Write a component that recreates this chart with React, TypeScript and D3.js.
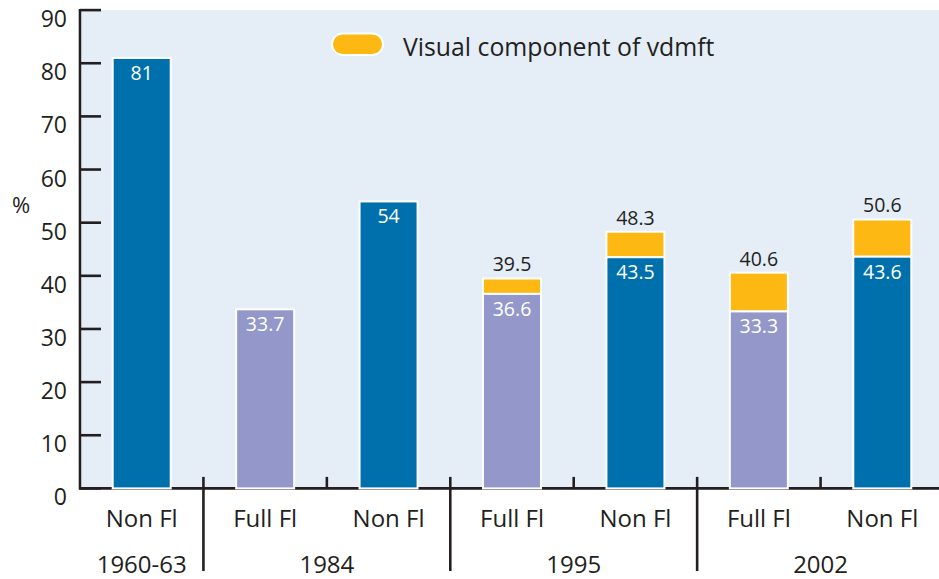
import React from "react";
import * as d3 from "d3";

const categories = ["Non Fl", "Full Fl", "Non Fl", "Full Fl", "Non Fl", "Full Fl", "Non Fl"];
const fluoridated = [false, true, false, true, false, true, false];
const baseValues = [81, 33.7, 54, 36.6, 43.5, 33.3, 43.6];
const totalValues: (number | null)[] = [null, null, null, 39.5, 48.3, 40.6, 50.6];
const groupLabels = ["1960-63", "1984", "1995", "2002"];
const groupSpans = [[0, 0], [1, 2], [3, 4], [5, 6]];
const yTicks = [0, 10, 20, 30, 40, 50, 60, 70, 80, 90];
const legendLabel = "Visual component of vdmft";

const W = 939;
const H = 579;
const FONT = "'Open Sans', 'Noto Sans', sans-serif";
const INK = "#231f20";
const DARK_BLUE = "#0070ad";
const LAVENDER = "#9497c9";
const GOLD = "#fdb813";
const BG = "#e5edf7";

export default function App() {
  const ids = categories.map((_, i) => String(i));
  const x = d3.scaleBand<string>().domain(ids).range([80, 944]).paddingInner(0.53).paddingOuter(0.265);
  const y = d3.scaleLinear().domain([0, 90]).range([488.4, 10.1]);
  const step = x.step();
  const bw = x.bandwidth();
  const y0 = y(0);

  return (
    <svg width={W} height={H} style={{ position: "absolute", left: 0, top: 0, background: "#fff" }} fontFamily={FONT}>
      {/* plot background */}
      <rect x={82} y={y(90)} width={W - 82} height={y0 + 1 - y(90)} fill={BG} />

      {/* legend */}
      <rect x={332} y={33.5} width={51} height={21.5} rx={10.75} fill={GOLD} stroke="#fff" strokeWidth={2} />
      <text x={403} y={56} fontSize={24.8} fill={INK}>{legendLabel}</text>

      {/* y axis */}
      <line x1={80} x2={80} y1={y(90) - 1} y2={y0 + 1.2} stroke={INK} strokeWidth={2.6} />
      {yTicks.map((t) => (
        <g key={t}>
          <line x1={80} x2={101} y1={y(t)} y2={y(t)} stroke={INK} strokeWidth={2.6} />
          <text x={67} y={y(t) + 17} textAnchor="end" fontSize={23} fill={INK}>{t}</text>
        </g>
      ))}
      <text x={21} y={213} textAnchor="middle" fontSize={22} fill={INK}>%</text>

      {/* x axis line */}
      <line x1={79} x2={W} y1={y0} y2={y0} stroke={INK} strokeWidth={2.6} />

      {/* small ticks between bars within a group */}
      {[2, 4, 6].map((b) => {
        const xx = 80 + step * b;
        return <line key={b} x1={xx} x2={xx} y1={y0 - 11.5} y2={y0} stroke={INK} strokeWidth={2.6} />;
      })}
      {/* group separators */}
      {[1, 3, 5].map((b) => {
        const xx = 80 + step * b;
        return <line key={b} x1={xx} x2={xx} y1={y0 - 11.5} y2={571} stroke={INK} strokeWidth={2.6} />;
      })}

      {/* bars */}
      {categories.map((c, i) => {
        const bx = x(String(i))!;
        const base = baseValues[i];
        const tot = totalValues[i];
        const cx = bx + bw / 2;
        return (
          <g key={i}>
            {tot !== null && (
              <rect x={bx} y={y(tot)} width={bw} height={y(base) - y(tot)} fill={GOLD} stroke="#fff" strokeWidth={2} />
            )}
            <rect x={bx} y={y(base)} width={bw} height={y0 - y(base)} fill={fluoridated[i] ? LAVENDER : DARK_BLUE} stroke="#fff" strokeWidth={2} />
            <text x={cx} y={y(base) + 22} textAnchor="middle" fontSize={19.5} fill="#fff">{String(base)}</text>
            {tot !== null && (
              <text x={cx} y={y(tot) - 7} textAnchor="middle" fontSize={19.5} fill={INK}>{String(tot)}</text>
            )}
            <text x={cx} y={527} textAnchor="middle" fontSize={24} fill={INK}>{c}</text>
          </g>
        );
      })}

      {/* group labels */}
      {groupSpans.map(([a, b], gi) => {
        const cx = (x(String(a))! + x(String(b))! + bw) / 2;
        return (
          <text key={gi} x={cx} y={573} textAnchor="middle" fontSize={24} fill={INK}>{groupLabels[gi]}</text>
        );
      })}
    </svg>
  );
}
